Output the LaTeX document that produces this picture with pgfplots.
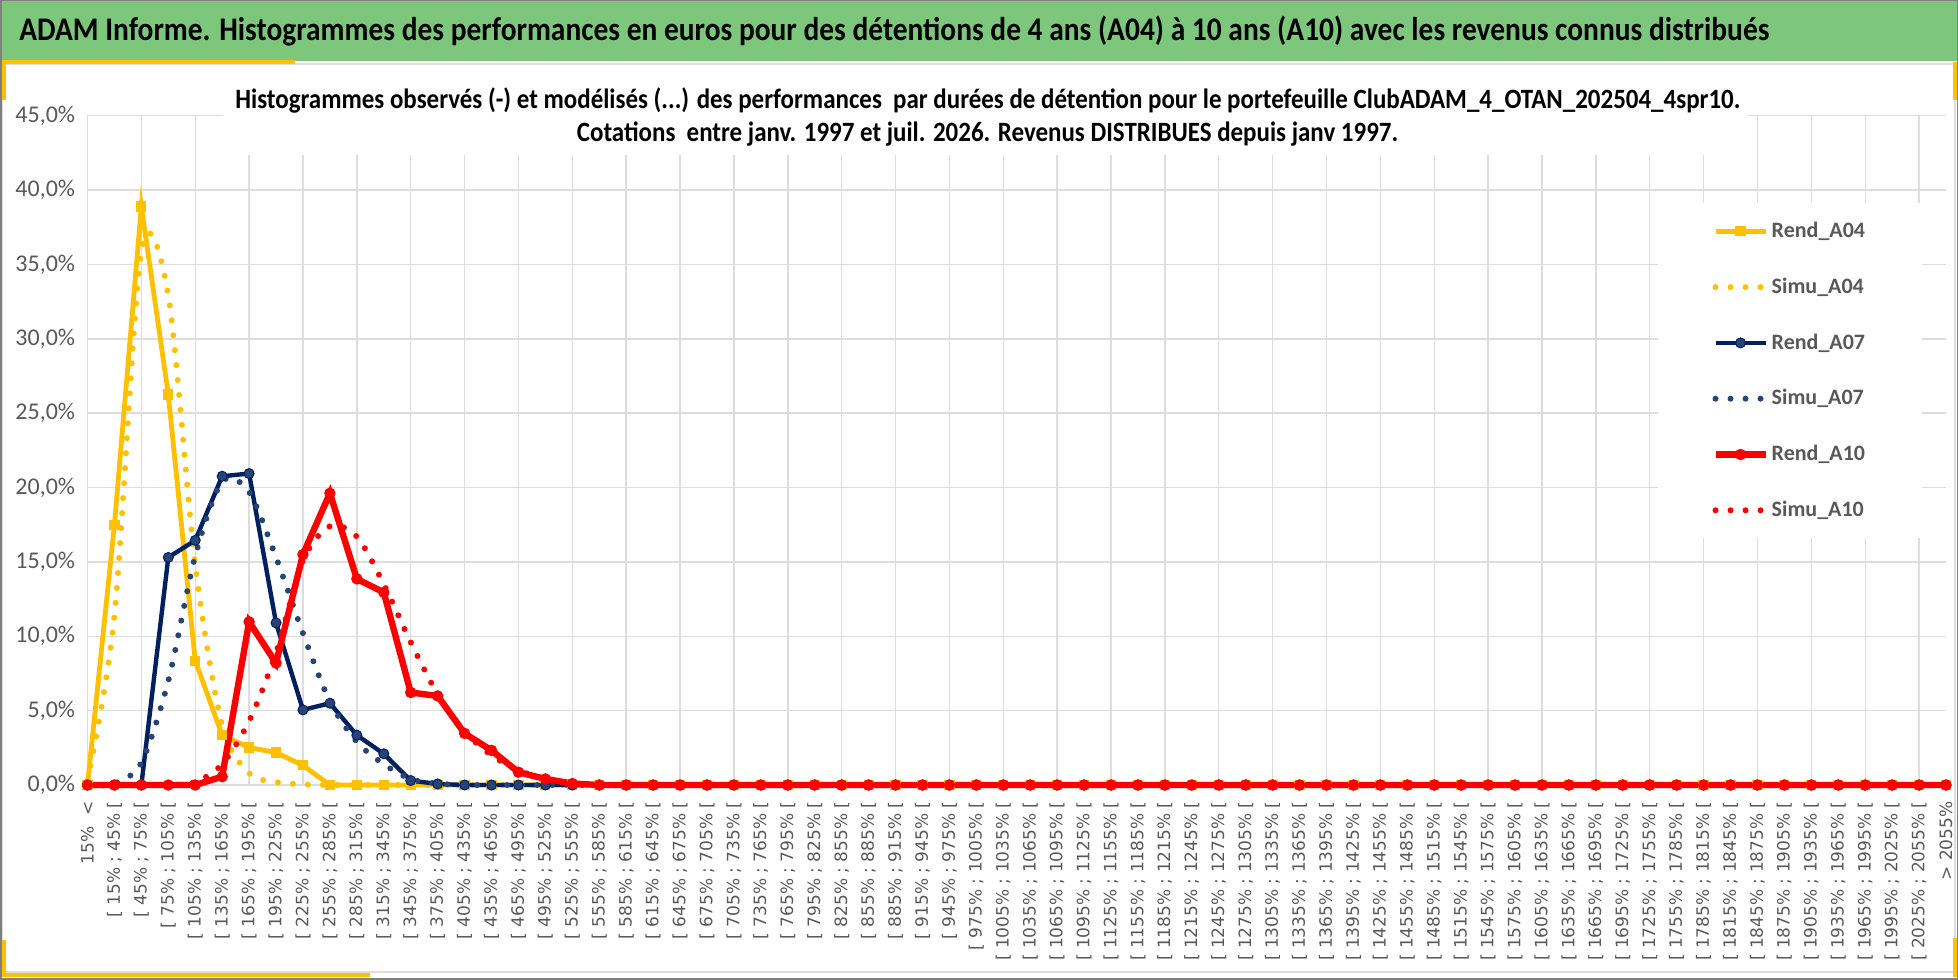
\documentclass[border=0pt]{standalone}
\usepackage{fontspec}
\setmainfont{Carlito}
\newfontfamily\xlab{DejaVu Sans}
\usepackage{graphicx}
\usepackage{pgfplots}
\usepackage{pgfplotstable}
\pgfplotsset{compat=1.18}

\definecolor{gold}{HTML}{FFC000}
\definecolor{navy}{HTML}{002060}
\definecolor{navyd}{HTML}{264478}
\definecolor{redd}{HTML}{FF0000}
\definecolor{txt}{HTML}{595959}
\definecolor{gridc}{HTML}{DDDDDD}
\definecolor{hdr}{RGB}{124,199,124}
\definecolor{framec}{HTML}{7F7F7F}

\newcommand\rg[2]{[ #1\% ; #2\% [}

\pgfplotstableread{
x a04r a04s a07r a07s a10r a10s
0 0 0.3 0 0 0 0
1 17.5 11.4 0 0.1 0 0
2 38.9 35.9 0 1.5 0 0
3 26.25 32.9 15.3 7.0 0 0
4 8.35 14.8 16.45 15.4 0 0.2
5 3.35 4.0 20.76 20.4 0.56 1.4
6 2.52 0.8 20.94 19.7 10.97 4.3
7 2.18 0.2 10.9 15.3 8.2 8.9
8 1.32 0.05 5.05 10.2 15.5 15.1
9 0 0 5.5 5.6 19.62 17.4
10 0 0 3.35 2.9 13.86 16.7
11 0 0 2.1 1.4 12.95 13.5
12 0 0 0.3 0.4 6.22 9.6
13 0 0 0.07 0.1 5.99 6.1
14 0 0 0 0 3.47 3.6
15 0 0 0 0 2.33 2.0
16 0 0 0 0 0.86 1.0
17 0 0 0 0 0.41 0.4
18 0 0 0 0 0.1 0.15
19 0 0 0 0 0 0
20 0 0 0 0 0 0
21 0 0 0 0 0 0
22 0 0 0 0 0 0
23 0 0 0 0 0 0
24 0 0 0 0 0 0
25 0 0 0 0 0 0
26 0 0 0 0 0 0
27 0 0 0 0 0 0
28 0 0 0 0 0 0
29 0 0 0 0 0 0
30 0 0 0 0 0 0
31 0 0 0 0 0 0
32 0 0 0 0 0 0
33 0 0 0 0 0 0
34 0 0 0 0 0 0
35 0 0 0 0 0 0
36 0 0 0 0 0 0
37 0 0 0 0 0 0
38 0 0 0 0 0 0
39 0 0 0 0 0 0
40 0 0 0 0 0 0
41 0 0 0 0 0 0
42 0 0 0 0 0 0
43 0 0 0 0 0 0
44 0 0 0 0 0 0
45 0 0 0 0 0 0
46 0 0 0 0 0 0
47 0 0 0 0 0 0
48 0 0 0 0 0 0
49 0 0 0 0 0 0
50 0 0 0 0 0 0
51 0 0 0 0 0 0
52 0 0 0 0 0 0
53 0 0 0 0 0 0
54 0 0 0 0 0 0
55 0 0 0 0 0 0
56 0 0 0 0 0 0
57 0 0 0 0 0 0
58 0 0 0 0 0 0
59 0 0 0 0 0 0
60 0 0 0 0 0 0
61 0 0 0 0 0 0
62 0 0 0 0 0 0
63 0 0 0 0 0 0
64 0 0 0 0 0 0
65 0 0 0 0 0 0
66 0 0 0 0 0 0
67 0 0 0 0 0 0
68 0 0 0 0 0 0
69 0 0 0 0 0 0
}\data

\newsavebox\hdrbox
\newsavebox\tAbox
\newsavebox\tBbox

\begin{document}
\sbox\hdrbox{\fontsize{13}{13}\selectfont\bfseries ADAM Informe. Histogrammes des performances en euros pour des détentions de 4 ans (A04) à 10 ans (A10) avec les revenus connus distribués}%
\sbox\tAbox{\fontsize{12}{12}\selectfont\bfseries Histogrammes observés (-) et modélisés (...) des performances\ \ par durées de détention pour le portefeuille ClubADAM\_4\_OTAN\_202504\_4spr10.}%
\sbox\tBbox{\fontsize{12}{12}\selectfont\bfseries Cotations\ \ entre janv. 1997 et juil. 2026. Revenus DISTRIBUES depuis janv 1997.}%
\begin{tikzpicture}
\useasboundingbox (0,0) rectangle (979pt,-489.5pt);
\begin{scope}[x=0.5pt,y=-0.5pt]
\fill[white] (0,0) rectangle (1958,979);
\fill[hdr] (0,0) rectangle (1958,61);
\draw[gridc, line width=1pt] (0,64) -- (1958,64);
\draw[gridc, line width=1pt] (2,64) rectangle (1955,972);
\draw[gold, line width=2pt] (0,62.5) -- (295,62.5);
\draw[gold, line width=2.5pt] (3,62) -- (3,100);
\draw[gold, line width=2.5pt] (3,940) -- (3,977);
\draw[gold, line width=2pt] (0,974.5) -- (370,974.5);
\draw[gold, line width=2.5pt] (1955.5,62) -- (1955.5,100);
\draw[gold, line width=2.5pt] (1955.5,938) -- (1955.5,977);
\end{scope}

\begin{axis}[
  at={(43.75pt,-392.5pt)}, anchor=south west,
  scale only axis, width=929.25pt, height=334.65pt,
  xmin=0, xmax=69, ymin=0, ymax=45,
  clip=false,
  axis line style={draw=none},
  major tick length=0pt,
  ytick={0,5,...,45},
  yticklabels={{0,0\%},{5,0\%},{10,0\%},{15,0\%},{20,0\%},{25,0\%},{30,0\%},{35,0\%},{40,0\%},{45,0\%}},
  ymajorgrids,
  major grid style={gridc, line width=0.7pt},
  extra x ticks={0,2,...,68},
  extra x tick labels={},
  extra x tick style={grid=major},
  yticklabel style={font=\fontsize{12}{13}\selectfont, text=txt, inner sep=0pt, inner xsep=6pt},
  xtick={0,...,69},
  xticklabels={{15\%\ \ <},
   {\rg{15}{45}},{\rg{45}{75}},{\rg{75}{105}},{\rg{105}{135}},{\rg{135}{165}},{\rg{165}{195}},{\rg{195}{225}},{\rg{225}{255}},{\rg{255}{285}},{\rg{285}{315}},
   {\rg{315}{345}},{\rg{345}{375}},{\rg{375}{405}},{\rg{405}{435}},{\rg{435}{465}},{\rg{465}{495}},{\rg{495}{525}},{\rg{525}{555}},{\rg{555}{585}},{\rg{585}{615}},
   {\rg{615}{645}},{\rg{645}{675}},{\rg{675}{705}},{\rg{705}{735}},{\rg{735}{765}},{\rg{765}{795}},{\rg{795}{825}},{\rg{825}{855}},{\rg{855}{885}},{\rg{885}{915}},
   {\rg{915}{945}},{\rg{945}{975}},{\rg{975}{1005}},{\rg{1005}{1035}},{\rg{1035}{1065}},{\rg{1065}{1095}},{\rg{1095}{1125}},{\rg{1125}{1155}},{\rg{1155}{1185}},{\rg{1185}{1215}},
   {\rg{1215}{1245}},{\rg{1245}{1275}},{\rg{1275}{1305}},{\rg{1305}{1335}},{\rg{1335}{1365}},{\rg{1365}{1395}},{\rg{1395}{1425}},{\rg{1425}{1455}},{\rg{1455}{1485}},{\rg{1485}{1515}},
   {\rg{1515}{1545}},{\rg{1545}{1575}},{\rg{1575}{1605}},{\rg{1605}{1635}},{\rg{1635}{1665}},{\rg{1665}{1695}},{\rg{1695}{1725}},{\rg{1725}{1755}},{\rg{1755}{1785}},{\rg{1785}{1815}},
   {\rg{1815}{1845}},{\rg{1845}{1875}},{\rg{1875}{1905}},{\rg{1905}{1935}},{\rg{1935}{1965}},{\rg{1965}{1995}},{\rg{1995}{2025}},{\rg{2025}{2055}},
   {> 2055\%}},
  xticklabel style={rotate=90, anchor=east, font=\xlab\fontsize{8.5}{9}\selectfont, text=txt, inner sep=0pt, inner xsep=8pt},
  legend style={at={(0.845,0.8696)}, anchor=north west, draw=none, fill=white,
     font=\fontsize{11}{12}\selectfont\bfseries, text=txt,
     inner xsep=27pt, inner ysep=0pt, row sep=0pt,
     nodes={inner xsep=1.5pt, inner ysep=0pt, minimum height=27.9pt}},
  legend cell align=left,
  legend image code/.code={\draw[mark repeat=2,mark phase=2,#1] plot coordinates {(0pt,0pt) (12.5pt,0pt) (25pt,0pt)};},
]
\addplot[gold, line width=2.4pt, mark=square*, mark size=2.3pt, mark options={solid, fill=gold, draw=gold, line width=0.5pt}] table[x=x,y=a04r]{\data};
\addlegendentry{Rend\_A04}
\addplot[gold, no markers, line width=3pt, line cap=round, dash pattern=on 0pt off 7.5pt, smooth] table[x=x,y=a04s]{\data};
\addlegendentry{Simu\_A04}
\addplot[navy, line width=2.2pt, mark=*, mark size=2.5pt, mark options={solid, fill=navyd, draw=navy, line width=0.5pt}] table[x=x,y=a07r]{\data};
\addlegendentry{Rend\_A07}
\addplot[navyd, no markers, line width=3pt, line cap=round, dash pattern=on 0pt off 7.5pt, smooth] table[x=x,y=a07s]{\data};
\addlegendentry{Simu\_A07}
\addplot[redd, line width=3.2pt, mark=*, mark size=2.6pt, mark options={solid, fill=redd, draw=redd, line width=0.5pt}] table[x=x,y=a10r]{\data};
\addlegendentry{Rend\_A10}
\addplot[redd, no markers, line width=3pt, line cap=round, dash pattern=on 0pt off 7.5pt, smooth] table[x=x,y=a10s]{\data};
\addlegendentry{Simu\_A10}
\end{axis}

\begin{scope}[x=0.5pt,y=-0.5pt]
\fill[white] (223,100) rectangle (1747,155);
\pgfmathsetmacro\tsc{752.5/\the\wd\tAbox}
\pgfmathsetmacro\tscy{\tsc*1.12}
\node[anchor=base west, inner sep=0pt, text=txt] at (235,108) {\scalebox{\tsc}[\tscy]{\usebox\tAbox}};
\node[anchor=base, inner sep=0pt, text=txt] at (987.5,141) {\scalebox{\tsc}[\tscy]{\usebox\tBbox}};
\pgfmathsetmacro\hsc{875/\the\wd\hdrbox}
\pgfmathsetmacro\hscy{\hsc*1.12}
\node[anchor=base west, inner sep=0pt, text=black] at (19,41) {\scalebox{\hsc}[\hscy]{\usebox\hdrbox}};
\draw[framec, line width=1pt] (0.5,0.5) rectangle (1957.5,978.5);
\end{scope}
\end{tikzpicture}
\end{document}
